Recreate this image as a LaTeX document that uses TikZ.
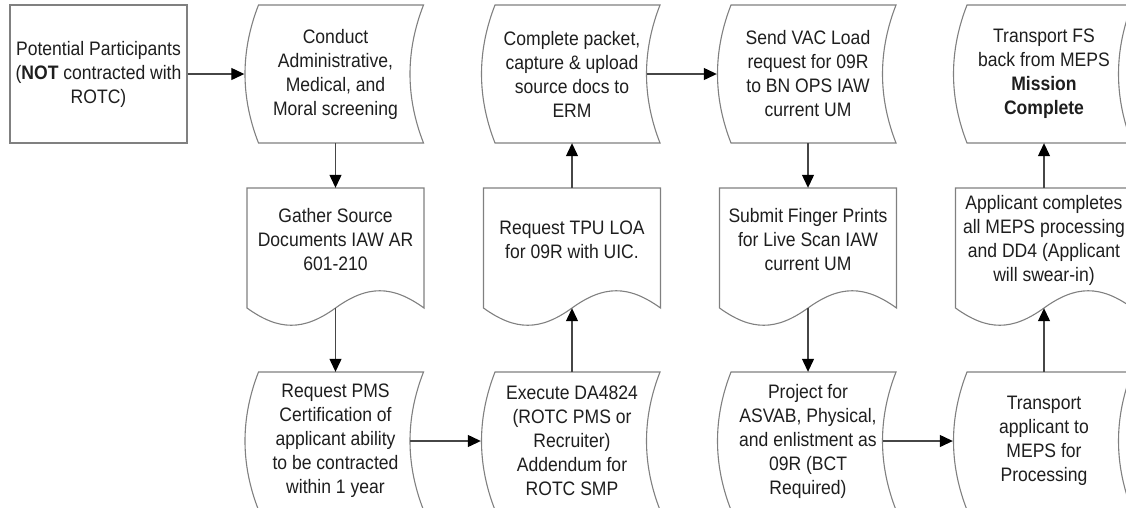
\documentclass[tikz,border=0pt]{standalone}
\usepackage{fontspec}
\setmainfont{Liberation Sans}[FakeStretch=0.9]
\usetikzlibrary{arrows.meta}
\definecolor{outl}{RGB}{128,128,128}
\definecolor{conn}{RGB}{70,70,70}
\definecolor{txt}{RGB}{30,30,30}
\tikzset{
 every node/.style={font=\fontsize{19.5}{24}\selectfont, text=txt, align=center, inner sep=0pt},
 outline/.style={draw=outl, line width=1.1pt},
 sdbox/.style={minimum width=182pt, minimum height=138pt},
 docbox/.style={minimum width=177pt, minimum height=104pt},
 flow/.style={draw=conn, line width=1.2pt, -{Triangle[length=13pt,width=12pt,color=black]}},
}
\newcommand\sdshape[3]{%
  \draw[outline] ({#1-77},#2) -- ({#1+88},#2)
   .. controls ({#1+70},{#2+46}) and ({#1+70},{#3-46}) .. ({#1+88},#3)
   -- ({#1-77},#3)
   .. controls ({#1-95},{#3-46}) and ({#1-95},{#2+46}) .. ({#1-77},#2) -- cycle;}
\newcommand\docshape[2]{%
  \draw[outline] ({#1-88.5},#2) -- ({#1+88.5},#2) -- ({#1+88.5},{#2+120})
   .. controls ({#1+56.6},{#2+97}) and ({#1+31.9},{#2+97}) .. ({#1},{#2+120})
   .. controls ({#1-31.9},{#2+143}) and ({#1-56.6},{#2+143}) .. ({#1-88.5},{#2+120}) -- cycle;}
\begin{document}
\begin{tikzpicture}[x=1pt,y=-1pt]
\useasboundingbox (0,0) rectangle (1126,507);
\clip (0,0) rectangle (1126,507);
\node[draw=outl, line width=1.1pt, minimum width=177pt, minimum height=138pt] (p) at (98.5,74) {Potential Participants\\(\textbf{NOT} contracted with\\ROTC)};
% row 1
\sdshape{335.5}{5}{143}
\node[sdbox] (a1) at (335.5,74) {Conduct\\Administrative,\\Medical, and\\Moral screening};
\sdshape{572}{5}{143}
\node[sdbox] (a2) at (572,74) {Complete packet,\\capture \& upload\\source docs to\\ERM};
\sdshape{808}{5}{143}
\node[sdbox] (a3) at (808,74) {Send VAC Load\\request for 09R\\to BN OPS IAW\\current UM};
\sdshape{1044}{5}{143}
\node[sdbox] (a4) at (1044,74) {Transport FS\\back from MEPS\\\textbf{Mission}\\\textbf{Complete}};
% row 2
\docshape{335.5}{188}
\node[docbox] (d1) at (335.5,240) {Gather Source\\Documents IAW AR\\601-210};
\docshape{572}{188}
\node[docbox] (d2) at (572,240) {Request TPU LOA\\for 09R with UIC.};
\docshape{808}{188}
\node[docbox] (d3) at (808,240) {Submit Finger Prints\\for Live Scan IAW\\current UM};
\docshape{1044}{188}
\node[docbox] (d4) at (1044,240) {Applicant completes\\all MEPS processing\\and DD4 (Applicant\\will swear-in)};
% row 3
\sdshape{335.5}{372}{510}
\node[sdbox] (b1) at (335.5,441) {Request PMS\\Certification of\\applicant ability\\to be contracted\\within 1 year};
\sdshape{572}{372}{510}
\node[sdbox] (b2) at (572,441) {Execute DA4824\\(ROTC PMS or\\Recruiter)\\Addendum for\\ROTC SMP};
\sdshape{808}{372}{510}
\node[sdbox] (b3) at (808,441) {Project for\\ASVAB, Physical,\\and enlistment as\\09R (BCT\\Required)};
\sdshape{1044}{372}{510}
\node[sdbox] (b4) at (1044,441) {Transport\\applicant to\\MEPS for\\Processing};
% connectors
\draw[flow] (p.east) -- (a1.west);
\draw[flow] (a1.south) -- (d1.north);
\draw[flow] ([yshift=-16pt]d1.south) -- (b1.north);
\draw[flow] ([xshift=-16.5pt]b1.east) -- (b2.west);
\draw[flow] (b2.north) -- ([yshift=-16pt]d2.south);
\draw[flow] (d2.north) -- (a2.south);
\draw[flow] ([xshift=-16.5pt]a2.east) -- (a3.west);
\draw[flow] (a3.south) -- (d3.north);
\draw[flow] ([yshift=-16pt]d3.south) -- (b3.north);
\draw[flow] ([xshift=-16.5pt]b3.east) -- (b4.west);
\draw[flow] (b4.north) -- ([yshift=-16pt]d4.south);
\draw[flow] (d4.north) -- (a4.south);
\end{tikzpicture}
\end{document}
